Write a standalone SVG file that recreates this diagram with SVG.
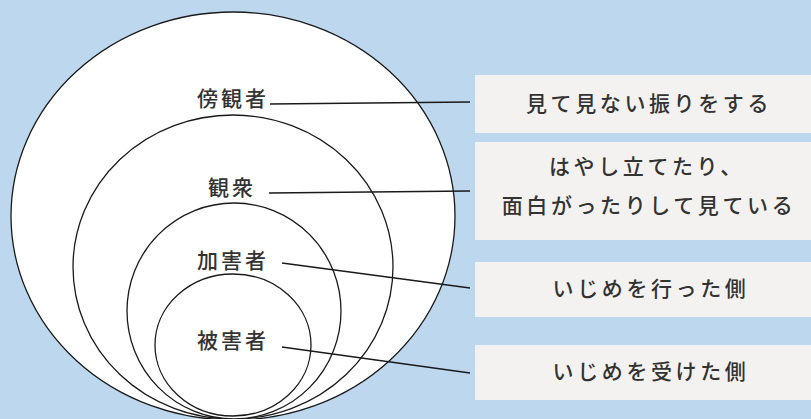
<svg xmlns="http://www.w3.org/2000/svg" width="811" height="419" viewBox="0 0 811 419">
<style>
.ring{fill:#ffffff;stroke:#1a1a1a;stroke-width:1.3}
.lbl{font-family:"Noto Sans CJK JP","Noto Sans",sans-serif;font-size:21px;font-weight:500;fill:#333333;text-anchor:middle;letter-spacing:3px}
.box{fill:#f3f2f1}
.btxt{font-family:"Noto Sans CJK JP","Noto Sans",sans-serif;font-size:21px;font-weight:500;fill:#333333;text-anchor:middle;letter-spacing:3.6px}
.conn{stroke:#1a1a1a;stroke-width:1.3;fill:none}
</style>
<rect x="0" y="0" width="811" height="419" fill="#bdd7ee"/>
<g id="bystander">
<ellipse class="ring" cx="233" cy="216" rx="222" ry="204"/>
<text class="lbl" x="233" y="106">傍観者</text>
</g>
<g id="audience">
<ellipse class="ring" cx="233" cy="267" rx="160" ry="152"/>
<text class="lbl" x="232" y="195">観衆</text>
</g>
<g id="perpetrator">
<ellipse class="ring" cx="234" cy="311" rx="107" ry="108"/>
<text class="lbl" x="233" y="268">加害者</text>
</g>
<g id="victim">
<ellipse class="ring" cx="233" cy="345" rx="78" ry="71"/>
<text class="lbl" x="233" y="348">被害者</text>
</g>
<g id="desc1">
<rect class="box" x="475" y="75" width="336" height="58"/>
<text class="btxt" x="649" y="111">見て見ない振りをする</text>
</g>
<g id="desc2">
<rect class="box" x="475" y="142" width="336" height="98"/>
<text class="btxt" x="647" y="174">はやし立てたり、</text>
<text class="btxt" x="649" y="213">面白がったりして見ている</text>
</g>
<g id="desc3">
<rect class="box" x="475" y="262" width="336" height="55"/>
<text class="btxt" x="651" y="296">いじめを行った側</text>
</g>
<g id="desc4">
<rect class="box" x="475" y="345" width="336" height="55"/>
<text class="btxt" x="651" y="379">いじめを受けた側</text>
</g>
<g id="connectors">
<line class="conn" x1="270" y1="104" x2="470" y2="102"/>
<line class="conn" x1="269" y1="193" x2="470" y2="191"/>
<line class="conn" x1="282" y1="263" x2="470" y2="288"/>
<line class="conn" x1="282" y1="347" x2="470" y2="373"/>
</g>
</svg>
